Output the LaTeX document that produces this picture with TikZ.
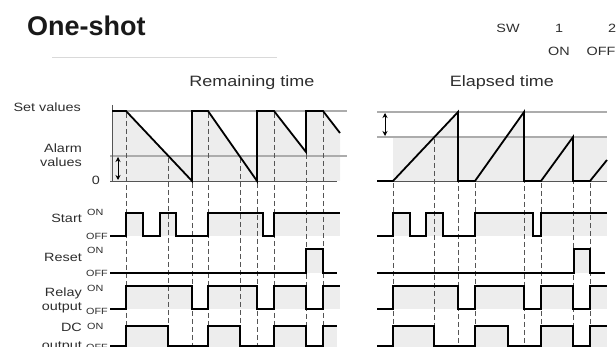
\documentclass[tikz,border=0pt]{standalone}
\usepackage{fontspec}
\setmainfont{Liberation Sans}
\newfontfamily\wide[FakeStretch=1.2]{Liberation Sans}
\usetikzlibrary{arrows.meta}
\definecolor{txt}{HTML}{2E2E2E}
\definecolor{lgray}{HTML}{ACACAC}
\definecolor{fgray}{HTML}{EDEDED}
\definecolor{dgray}{HTML}{555555}
\begin{document}
\begin{tikzpicture}[x=1pt,y=-1pt,
  wave/.style={line width=1.8pt, line join=miter, black},
  level/.style={line width=1.5pt, lgray},
  zero/.style={line width=0.9pt, dgray},
  guide/.style={line width=1pt, dgray, dash pattern=on 5pt off 3pt},
  hi/.style={fgray},
  lab/.style={font=\wide\fontsize{12}{12}\selectfont, text=txt, inner sep=0pt},
  sml/.style={font=\wide\fontsize{9}{9}\selectfont, text=txt, inner sep=0pt},
  hdr/.style={font=\wide\fontsize{15}{15}\selectfont, text=txt, inner sep=0pt},
  span/.style={line width=1pt, black, {Stealth[length=5pt,width=5pt]}-{Stealth[length=5pt,width=5pt]}}]
\useasboundingbox (0,0) rectangle (616,347);

% ---- title and headers
\node[anchor=base west, inner sep=0pt, font=\bfseries\fontsize{27}{27}\selectfont, text=black!90] (title) at (27,36) {One-shot};
\draw[line width=0.6pt, gray!30] (52,57) -- (277,57);
\node[lab, anchor=base] (sw) at (508,33) {SW};
\node[lab, anchor=base] (sw1) at (559,33) {1};
\node[lab, anchor=base] (sw2) at (612,33) {2};
\node[lab, anchor=base] (swon) at (559,56) {ON};
\node[lab, anchor=base] (swoff) at (601,56) {OFF};
\node[hdr, anchor=base] (rem) at (252,87) {Remaining time};
\node[hdr, anchor=base] (ela) at (502,87) {Elapsed time};

% ---- left labels
\node[lab, anchor=base east] (setv) at (81,112) {Set values};
\node[lab, anchor=base east] (alarm1) at (82,153) {Alarm};
\node[lab, anchor=base east] (alarm2) at (82,167) {values};
\node[lab, anchor=base east] (zerol) at (100,185) {0};
\node[lab, anchor=base east] (lstart) at (82,223) {Start};
\node[sml, anchor=base west] (sonl) at (87,216) {ON};
\node[sml, anchor=base east] (soffl) at (108,240) {OFF};
\node[lab, anchor=base east] (lreset) at (82,262) {Reset};
\node[sml, anchor=base west] (ronl) at (87,254) {ON};
\node[sml, anchor=base east] (roffl) at (108,277) {OFF};
\node[lab, anchor=base east] (lrelay) at (82,297) {Relay};
\node[lab, anchor=base east] (lrelay2) at (82,311) {output};
\node[sml, anchor=base west] (relonl) at (87,292) {ON};
\node[sml, anchor=base east] (reloffl) at (108,315) {OFF};
\node[lab, anchor=base east] (ldc) at (82,332) {DC};
\node[lab, anchor=base east] (ldc2) at (82,349) {output};
\node[sml, anchor=base west] (dconl) at (87,330) {ON};
\node[sml, anchor=base east] (dcoffl) at (108,351) {OFF};

% ---- fills
\fill[hi] (112,181) -- (112,111) -- (126,111) -- (192,181) -- (192,111) -- (208,111) -- (257,181) -- (257,111) -- (274,111) -- (306,152) -- (306,111) -- (323,111) -- (340,133) -- (340,181) -- cycle;
\fill[hi] (110,156) rectangle (340,181);
\fill[hi] (393,137) rectangle (607,181);
\fill[hi] (393,181) -- (458,112) -- (458,181) -- cycle;
\fill[hi] (475,181) -- (524,112) -- (524,181) -- cycle;
\fill[hi] (541,181) -- (573,137) -- (573,181) -- cycle;
\fill[hi] (590,181) -- (607,160) -- (607,181) -- cycle;
% start
\fill[hi] (126,213) rectangle (143,236);
\fill[hi] (160,213) rectangle (176,236);
\fill[hi] (208,213) rectangle (263,236);
\fill[hi] (274,213) rectangle (340,236);
\fill[hi] (393,213) rectangle (410,236);
\fill[hi] (426,213) rectangle (443,236);
\fill[hi] (475,213) rectangle (533,236);
\fill[hi] (541,213) rectangle (607,236);
% reset
\fill[hi] (306,249) rectangle (323,273);
\fill[hi] (574,249) rectangle (590,273);
% relay
\fill[hi] (126,286) rectangle (192,309);
\fill[hi] (208,286) rectangle (257,309);
\fill[hi] (274,286) rectangle (306,309);
\fill[hi] (323,286) rectangle (340,309);
\fill[hi] (393,286) rectangle (458,309);
\fill[hi] (475,286) rectangle (524,309);
\fill[hi] (541,286) rectangle (573,309);
\fill[hi] (590,286) rectangle (607,309);
% dc
\fill[hi] (126,326) rectangle (168,347);
\fill[hi] (208,326) rectangle (240,347);
\fill[hi] (274,326) rectangle (306,347);
\fill[hi] (323,326) rectangle (337,347);
\fill[hi] (393,326) rectangle (434,347);
\fill[hi] (475,326) rectangle (508,347);
\fill[hi] (541,326) rectangle (573,347);
\fill[hi] (590,326) rectangle (607,347);

% ---- level lines
\draw[level] (112,111) -- (347,111);
\draw[level] (110,156) -- (347,156);
\draw[zero] (110,181) -- (337,181);
\draw[line width=1pt, dgray] (112,105) -- (112,181);
\draw[level] (377,112) -- (607,112);
\draw[level] (377,137) -- (607,137);
\draw[zero] (377,181) -- (607,181);

% ---- range arrows
\coordinate (la1) at (118,157);
\coordinate (la2) at (118,180);
\coordinate (ra1) at (385,113);
\coordinate (ra2) at (385,136);
\draw[span] (la1) -- (la2);
\draw[span] (ra1) -- (ra2);

% ---- guides
\foreach \x/\y in {126/111,168/156,192/181,208/111,240/156,257/181,274/111,306/152,323/111,
                   393/181,434/137,458/112,475/181,524/112,541/181,573/137,590/181}
  \draw[guide] (\x,\y+2) -- (\x,347);

% ---- analog waveforms
\draw[wave] (112,111) -- (126,111) -- (192,181) -- (192,111) -- (208,111) -- (257,181) -- (257,111) -- (274,111) -- (306,152) -- (306,111) -- (323,111) -- (340,133);
\draw[wave] (377,181) -- (393,181) -- (458,112) -- (458,181) -- (475,181) -- (524,112) -- (524,181) -- (541,181) -- (573,137) -- (573,181) -- (590,181) -- (607,160);

% ---- digital waveforms
\draw[wave] (110,236) -- (126,236) -- (126,213) -- (143,213) -- (143,236) -- (160,236) -- (160,213) -- (176,213) -- (176,236) -- (208,236) -- (208,213) -- (263,213) -- (263,236) -- (274,236) -- (274,213) -- (340,213);
\draw[wave] (377,236) -- (393,236) -- (393,213) -- (410,213) -- (410,236) -- (426,236) -- (426,213) -- (443,213) -- (443,236) -- (475,236) -- (475,213) -- (533,213) -- (533,236) -- (541,236) -- (541,213) -- (607,213);
\draw[wave] (110,273) -- (306,273) -- (306,249) -- (323,249) -- (323,273) -- (337,273);
\draw[wave] (377,273) -- (574,273) -- (574,249) -- (590,249) -- (590,273) -- (605,273);
\draw[wave] (110,309) -- (126,309) -- (126,286) -- (192,286) -- (192,309) -- (208,309) -- (208,286) -- (257,286) -- (257,309) -- (274,309) -- (274,286) -- (306,286) -- (306,309) -- (323,309) -- (323,286) -- (340,286);
\draw[wave] (377,309) -- (393,309) -- (393,286) -- (458,286) -- (458,309) -- (475,309) -- (475,286) -- (524,286) -- (524,309) -- (541,309) -- (541,286) -- (573,286) -- (573,309) -- (590,309) -- (590,286) -- (607,286);
\draw[wave] (110,346) -- (126,346) -- (126,326) -- (168,326) -- (168,346) -- (208,346) -- (208,326) -- (240,326) -- (240,346) -- (274,346) -- (274,326) -- (306,326) -- (306,346) -- (323,346) -- (323,326) -- (337,326);
\draw[wave] (377,346) -- (393,346) -- (393,326) -- (434,326) -- (434,346) -- (475,346) -- (475,326) -- (508,326) -- (508,346) -- (541,346) -- (541,326) -- (573,326) -- (573,346) -- (590,346) -- (590,326) -- (607,326);
\end{tikzpicture}
\end{document}
